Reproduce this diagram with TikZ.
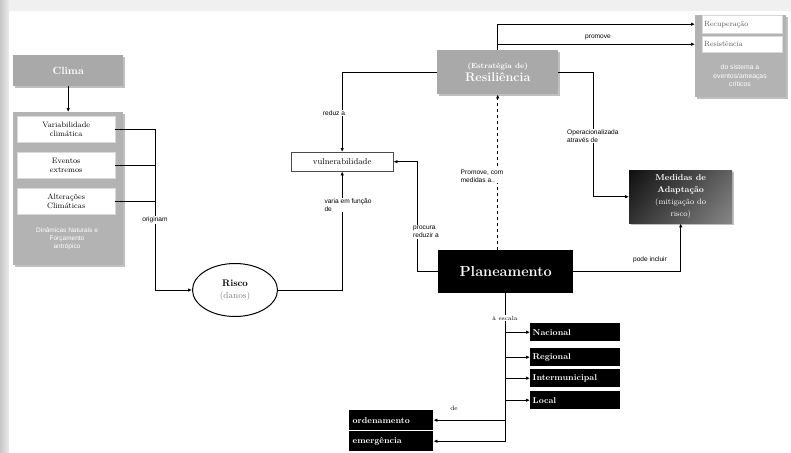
\documentclass[tikz,border=0pt]{standalone}
\usepackage{fontspec}
\setsansfont{Liberation Sans}
\usetikzlibrary{arrows.meta,shadows,calc,shapes.geometric}
\definecolor{boxgray}{HTML}{A9A9A9}
\definecolor{biggray}{HTML}{B3B3B3}
\begin{document}
\begin{tikzpicture}[x=1pt,y=-1pt,
  arr/.style={-{Latex[length=4pt,width=3.5pt]}, line width=0.9pt},
  ln/.style={line width=0.9pt},
  dotarr/.style={-{Latex[length=4pt,width=3.5pt]}, line width=1.5pt, dash pattern=on 3pt off 3pt},
  gbox/.style={anchor=north west, inner sep=1pt, fill=boxgray, text=white, align=center},
  wbox/.style={anchor=north west, inner sep=1pt, fill=white, draw=white!85!black, align=center, font=\fontsize{7.8}{8.6}\selectfont},
  kbox/.style={anchor=north west, inner sep=2.5pt, fill=black, text=white, text width=85pt, align=left, minimum height=18pt, font=\fontsize{8.5}{9}\selectfont\bfseries},
  lab/.style={font=\sffamily\fontsize{6.6}{7.6}\selectfont, fill=white, inner sep=1pt, align=left},
  shd/.style={drop shadow={shadow xshift=1.5pt,shadow yshift=-1.5pt,opacity=0.25,fill=black}}
]
\useasboundingbox (0,0) rectangle (791,452);
% frame
\fill[black!6] (0,0) rectangle (791,452);
\shade[left color=black!22,right color=black!8] (0,0) rectangle (9,452);
\fill[white] (9,11) rectangle (791,452);

% Clima
\node[gbox, shd, minimum width=110pt, minimum height=31pt, font=\fontsize{10.5}{11}\selectfont\bfseries] (clima) at (13,55) {Clima};
% big gray box
\node[gbox, shd, fill=biggray, minimum width=110pt, minimum height=153pt] (big) at (13,112) {};
\node[wbox, minimum width=98pt, minimum height=26pt] (var) at (17,116) {Variabilidade\\climática};
\node[wbox, minimum width=98pt, minimum height=26pt] (eve) at (17,152) {Eventos\\extremos};
\node[wbox, minimum width=98pt, minimum height=26pt] (alt) at (17,188) {Alterações\\Climáticas};
\node[text=white, align=center, font=\sffamily\fontsize{6.5}{8}\selectfont] (din) at (67,239) {Dinâmicas Naturais e\\Forçamento\\antrópico};

\draw[arr] (clima.south) -- (big.north);

% originam
\node[lab] (orig) at (155,220) {originam};
\draw[ln] (var.east) -| (orig.north);
\draw[ln] (eve.east) -- (eve.east -| orig.north);
\draw[ln] (alt.east) -- (alt.east -| orig.north);

% Risco
\node[ellipse, draw, line width=1pt, minimum width=85pt, minimum height=53pt, align=center, inner sep=0pt] (risco) at (235,290)
  {{\fontsize{9.5}{10}\selectfont\bfseries Risco}\\{\fontsize{9}{10}\selectfont\color{black!50}(danos)}};
\draw[arr] (orig.south) |- (risco.west);

% vulnerabilidade
\node[anchor=north west, draw=black!70, minimum width=102pt, minimum height=19pt, inner sep=1pt, font=\fontsize{8.5}{9}\selectfont] (vul) at (291,152) {vulnerabilidade};
\draw[arr] (risco.east) -| (vul.south);
\node[lab] (varia) at (348,205) {varia em função\\de};

% Resiliencia
\node[gbox, shd, minimum width=121pt, minimum height=44pt] (res) at (437,50)
  {{\fontsize{7.5}{8}\selectfont\bfseries (Estratégia de)}\\[1.5pt]{\fontsize{12.5}{13}\selectfont\bfseries Resiliência}};
\draw[arr] (res.west) -| (vul.north);
\node[lab] (reduz) at (334,113) {reduz a};

% right box
\node[gbox, shd, fill=biggray, minimum width=91pt, minimum height=82pt] (rbox) at (695,15) {};
\node[wbox, minimum width=80pt, minimum height=18pt, anchor=north west, text=black!65, align=left, text width=76pt, font=\fontsize{7.5}{8}\selectfont] (rec) at (702,15) {Recuperação};
\node[wbox, minimum width=80pt, minimum height=16pt, anchor=north west, text=black!65, align=left, text width=76pt, font=\fontsize{7.5}{8}\selectfont] (resist) at (702,36) {Resistência};
\node[text=white, align=center, font=\sffamily\fontsize{6.8}{8.5}\selectfont] (dosis) at (740,76) {do sistema a\\eventos/ameaças\\críticos};
\draw[arr] (res.north) |- (rec.west -| rbox.west);
\draw[arr] (res.north) |- (resist.west -| rbox.west);
\node[font=\sffamily\fontsize{6.6}{7.6}\selectfont, inner sep=1pt] (prom) at (598,37) {promove};

% Medidas
\fill[black, opacity=0.25] (630.5,171.5) rectangle (733.5,224.5);
\shade[top color=black!85, bottom color=black!50] (629,170) rectangle (732,223);
\shade[left color=black, right color=black!45, opacity=0.6] (629,170) rectangle (732,223);
\node[anchor=north west, minimum width=103pt, minimum height=53pt, inner sep=1pt, text=white, align=center] (med) at (629,170)
  {{\fontsize{8.5}{9}\selectfont\bfseries Medidas de}\\{\fontsize{8.5}{9}\selectfont\bfseries Adaptação}\\{\fontsize{8}{9}\selectfont (mitigação do}\\{\fontsize{8}{9}\selectfont risco)}};
\draw[arr] (res.east) -- ++(35,0) |- (med.west);
\node[lab, anchor=west] (oper) at (566,136) {Operacionalizada\\através de};

% Planeamento
\node[anchor=north west, fill=black, minimum width=135pt, minimum height=43pt, inner sep=1pt, text=white,
  font=\fontsize{14.5}{15}\selectfont\bfseries] (plan) at (438,250) {Planeamento};
\draw[dotarr] (plan.north -| res.south) -- (res.south);
\node[lab] (promc) at (482,176) {Promove, com\\medidas a..};
\draw[arr] (plan.east) -| (med.south);
\node[lab] (pode) at (650,260) {pode incluir};
\draw[arr] (plan.west) -- ++(-21,0) |- (vul.east);
\node[lab] (proc) at (426,232) {procura\\reduzir a};

% scales
\node[kbox] (nac) at (530,323) {Nacional};
\node[kbox] (reg) at (530,348) {Regional};
\node[kbox] (inter) at (530,369) {Intermunicipal};
\node[kbox] (loc) at (530,391) {Local};
\node[anchor=north west, fill=black, text=white, minimum width=84pt, minimum height=20pt, inner sep=2.5pt, font=\fontsize{8.5}{9}\selectfont\bfseries, text width=77pt] (ord) at (349,410) {ordenamento};
\node[anchor=north west, fill=black, text=white, minimum width=84pt, minimum height=20pt, inner sep=2.5pt, font=\fontsize{8.5}{9}\selectfont\bfseries, text width=77pt] (eme) at (349,431) {emergência};
\draw[ln] (plan.south) -- (plan.south |- eme.east);
\foreach \n in {nac,reg,inter,loc} \draw[arr] (plan.south |- \n.west) -- (\n.west);
\foreach \n in {ord,eme} \draw[arr] (plan.south |- \n.east) -- (\n.east);
\node[lab, font=\fontsize{6}{7}\selectfont] (esc) at (505,318) {à escala};
\node[lab, font=\fontsize{6.5}{7}\selectfont] (de) at (454,408) {de};
\end{tikzpicture}
\end{document}
